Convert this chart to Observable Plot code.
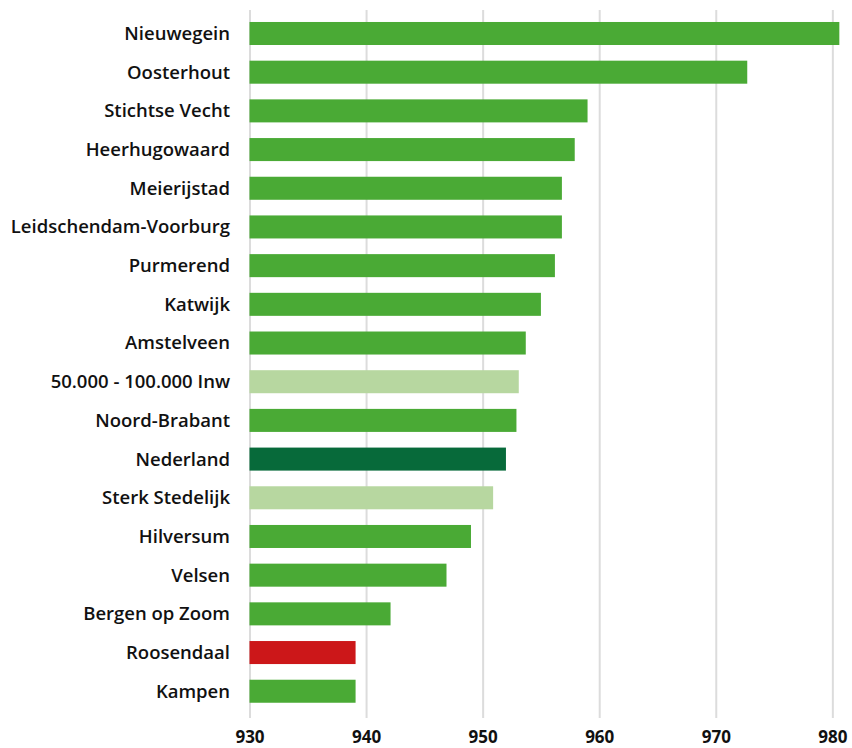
<!DOCTYPE html>
<html>
<head>
<meta charset="utf-8">
<script src="https://cdn.jsdelivr.net/npm/d3@7"></script>
<script src="https://cdn.jsdelivr.net/npm/@observablehq/plot@0.6"></script>
<style>
  html, body { margin: 0; padding: 0; background: #fff; }
  #chart svg { display: block; }
</style>
</head>
<body>
<div id="chart"></div>
<script>
const names = [
  "Nieuwegein", "Oosterhout", "Stichtse Vecht", "Heerhugowaard", "Meierijstad",
  "Leidschendam-Voorburg", "Purmerend", "Katwijk", "Amstelveen", "50.000 - 100.000 Inw",
  "Noord-Brabant", "Nederland", "Sterk Stedelijk", "Hilversum", "Velsen",
  "Bergen op Zoom", "Roosendaal", "Kampen"
];
const values = [
  980.6, 972.7, 959.0, 957.9, 956.8,
  956.8, 956.2, 955.0, 953.7, 953.1,
  952.9, 952.0, 950.9, 949.0, 946.9,
  942.1, 939.1, 939.1
];
const kinds = [
  "gemeente", "gemeente", "gemeente", "gemeente", "gemeente",
  "gemeente", "gemeente", "gemeente", "gemeente", "vergelijking",
  "gemeente", "land", "vergelijking", "gemeente", "gemeente",
  "gemeente", "focus", "gemeente"
];
const xTicks = [930, 940, 950, 960, 970, 980];

const data = names.map((name, i) => ({name, value: values[i], kind: kinds[i]}));

const chart = Plot.plot({
  width: 852,
  height: 748,
  marginTop: 10,
  marginBottom: 30,
  marginLeft: 249.5,
  marginRight: 8,
  style: {fontFamily: "'Open Sans', sans-serif", fontSize: "18px", color: "#111", background: "#fff"},
  x: {domain: [930, 981], ticks: xTicks, label: null},
  y: {domain: names, paddingInner: 0.405, paddingOuter: 0.352, align: 0.44, round: false, label: null},
  color: {
    domain: ["gemeente", "vergelijking", "land", "focus"],
    range: ["#4aaa35", "#b7d7a0", "#076a3a", "#cc1719"]
  },
  marks: [
    Plot.ruleX(xTicks, {stroke: "#dcdcdc", strokeWidth: 2}),
    Plot.barX(data, {x1: 930, x2: "value", y: "name", fill: "kind"}),
    Plot.axisX({ticks: xTicks, tickSize: 0, tickPadding: 12, fontWeight: "bold", fontSize: 17, fill: "#111", label: null}),
    Plot.axisY({tickSize: 0, tickPadding: 20, fontWeight: "600", fontSize: 18.5, fill: "#111", label: null})
  ]
});
document.getElementById("chart").appendChild(chart);
</script>
</body>
</html>
